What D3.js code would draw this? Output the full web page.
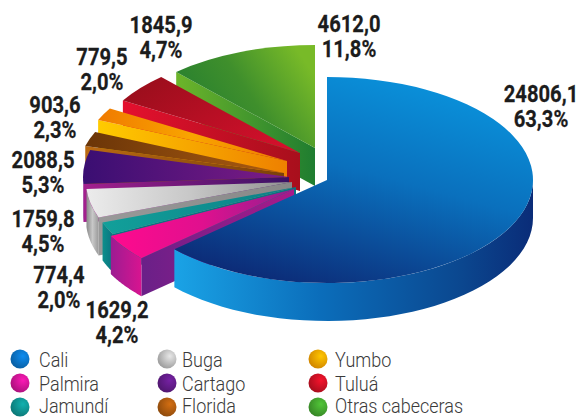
<!DOCTYPE html>
<html><head><meta charset="utf-8">
<script src="https://cdn.jsdelivr.net/npm/d3@7/dist/d3.min.js"></script>
<style>html,body{margin:0;padding:0;background:#fff}svg{display:block}</style>
</head><body><svg id="c" width="580" height="417"></svg>
<script>
const categories=["Cali","Palmira","Jamundí","Buga","Cartago","Florida","Yumbo","Tuluá","Otras cabeceras"];
const values=[24806.1,1629.2,774.4,1759.8,2088.5,903.6,779.5,1845.9,4612.0];
const percents=["63,3%","4,2%","2,0%","4,5%","5,3%","2,3%","2,0%","4,7%","11,8%"];
const legendOrder=["Cali","Palmira","Jamundí","Buga","Cartago","Florida","Yumbo","Tuluá","Otras cabeceras"];

// layout and style, kept apart from the data
const W=580,H=417,cx=327,cy=180,rx=206,ry=103,depth=38;
const explode={"Cali":[0,0],"Palmira":[-33,9],"Jamundí":[-31,7],"Buga":[-35,2],"Cartago":[-38,-3],"Florida":[-43,-7],"Yumbo":[-40,-19],"Tuluá":[-27,-27],"Otras cabeceras":[-12,-32]};
const labelPos={"Cali":[541,102],"Palmira":[117,318],"Jamundí":[59,283],"Buga":[43,227],"Cartago":[43,168],"Florida":[55,113],"Yumbo":[102,65],"Tuluá":[161,33],"Otras cabeceras":[349,32]};
const style={
 "Cali":{top:[[0,"#0a93dc"],[.45,"#0a70bd"],[1,"#0c2a76"]],tv:[.72,0,.25,1],wall:[[0,"#1aa3e6"],[.4,"#0b6ebb"],[.8,"#0b478f"],[1,"#0a2c78"]],side:["#0b6ebb","#0b3c8c"],dot:"#0a6dbb"},
 "Palmira":{top:[[0,"#ff0a8e"],[.5,"#e0108e"],[1,"#8e2090"]],tv:[0,.5,1,.5],wall:[[0,"#9c1c92"],[1,"#d81490"]],side:["#6a2088","#a81a8a"],dot:"#c4148e"},
 "Jamundí":{top:[[0,"#12a09a"],[1,"#0c7f86"]],tv:[0,.5,1,.5],wall:[[0,"#0d8f8c"],[1,"#0a7480"]],side:["#0a7480","#0a7480"],dot:"#0e8a88"},
 "Buga":{top:[[0,"#ececec"],[.5,"#c8c8c8"],[1,"#8f8f8f"]],tv:[0,.5,1,.5],wall:[[0,"#8a8a8a"],[.5,"#c8c8c8"],[1,"#9a9a9a"]],side:["#999","#888"],dot:"#b4b4b4"},
 "Cartago":{top:[[0,"#3a0e72"],[1,"#7e1c86"]],tv:[0,.5,1,.5],wall:[[0,"#a4208e"],[1,"#8a1c8a"]],side:["#a4208e","#3a1064"],dot:"#5c1a80"},
 "Florida":{top:[[0,"#6a3508"],[1,"#ad5c10"]],tv:[0,.5,1,.5],wall:[[0,"#b5620f"],[1,"#8a480c"]],side:["#ba6a12","#7a400a"],dot:"#a4560e"},
 "Yumbo":{top:[[0,"#f07a00"],[.5,"#f9a500"],[1,"#ef7a00"]],tv:[0,.5,1,.5],wall:[[0,"#ffcc00"],[1,"#f4a000"]],side:["#ffcb00","#ee8000"],dot:"#f59a00"},
 "Tuluá":{top:[[0,"#9a0e1c"],[1,"#d5102c"]],tv:[0,.2,1,.8],wall:[[0,"#e2102e"],[1,"#c40f24"]],side:["#e4102e","#a80f1c"],dot:"#c00f22"},
 "Otras cabeceras":{top:[[0,"#1f7a30"],[.55,"#3f8f2c"],[1,"#78ba28"]],tv:[0,.8,1,.3],wall:[[0,"#6db52a"],[1,"#1f7d30"]],side:["#6db52a","#1f7d30"],dot:"#3f9a2c"}
};

const svg=d3.select("#c");
const defs=svg.append("defs");
function grad(id,stops,v){
  const g=defs.append("linearGradient").attr("id",id).attr("x1",v[0]).attr("y1",v[1]).attr("x2",v[2]).attr("y2",v[3]);
  stops.forEach(s=>g.append("stop").attr("offset",s[0]).attr("stop-color",s[1]));
  return `url(#${id})`;
}
const arcs=d3.pie().sort(null).value((d,i)=>values[i]).startAngle(0).endAngle(2*Math.PI)(categories);
const k=ry/rx;
const arcGen=d3.arc().innerRadius(0).outerRadius(rx);
const pt=(a,r=rx)=>{const p=d3.pointRadial(a,r);return [p[0],p[1]*k];};
const line=d3.line();

// painter's order: back slices first, the large front slice last
const order=[8,7,6,5,4,3,2,1,0];
order.forEach(i=>{
  const a=arcs[i],name=categories[i],st=style[name],[dx,dy]=explode[name];
  const g=svg.append("g").attr("transform",`translate(${cx+dx},${cy+dy})`);
  // radial wall at the clockwise start edge
  if(a.startAngle>Math.PI){
    const p=pt(a.startAngle);
    g.append("path").attr("d",line([[0,0],p,[p[0],p[1]+depth],[0,depth]])+"Z")
     .attr("fill",grad("s"+i,[[0,st.side[0]],[1,st.side[1]]],[0,.5,1,.5]));
  }
  // curved outer wall, only where it faces the viewer
  const a0=Math.max(a.startAngle,Math.PI/2),a1=Math.min(a.endAngle,3*Math.PI/2);
  if(a1>a0){
    const t=d3.range(0,41).map(j=>pt(a0+(a1-a0)*j/40));
    const poly=t.concat(t.slice().reverse().map(p=>[p[0],p[1]+depth]));
    g.append("path").attr("d",line(poly)+"Z")
     .attr("fill",grad("w"+i,st.wall,[0,.5,1,.5]));
  }
  // top face: a d3 arc squashed into an ellipse
  g.append("path").attr("d",arcGen(a)).attr("transform",`scale(1,${k})`)
   .attr("fill",grad("t"+i,st.top,st.tv));
});

// value labels
const sx=.86;
categories.forEach((name,i)=>{
  const [x,y]=labelPos[name];
  const g=svg.append("g").attr("transform",`translate(${x},${y}) scale(${sx},1)`)
    .attr("font-family","Roboto").attr("font-weight",700).attr("font-size",23.5).attr("fill","#1c1c1c")
    .attr("stroke","#1c1c1c").attr("stroke-width",.25).attr("text-anchor","middle");
  g.append("text").text(values[i].toFixed(1).replace(".",","));
  g.append("text").attr("y",25).text(percents[i]);
});

// legend
const colX=d3.scaleOrdinal().domain([0,1,2]).range([20,167,318]);
const textX=d3.scaleOrdinal().domain([0,1,2]).range([39,182,335]);
const rowY=d3.scaleOrdinal().domain([0,1,2]).range([359,383,407]);
const textY=d3.scaleOrdinal().domain([0,1,2]).range([367,391,413]);
legendOrder.forEach((name,i)=>{
  const c=Math.floor(i/3),r=i%3;
  const col=style[name].dot;
  const rg=defs.append("radialGradient").attr("id","d"+i).attr("cx",.65).attr("cy",.35).attr("r",.75);
  rg.append("stop").attr("offset",0).attr("stop-color",d3.color(col).brighter(.7));
  rg.append("stop").attr("offset",1).attr("stop-color",d3.color(col).darker(.5));
  svg.append("circle").attr("cx",colX(c)).attr("cy",rowY(r)).attr("r",9.5).attr("fill",`url(#d${i})`);
  svg.append("text").attr("transform",`translate(${textX(c)},${textY(r)}) scale(.9,1)`)
    .attr("font-family","Roboto").attr("font-weight",300).attr("font-size",20).attr("fill","#3a3a3a").text(name);
});
</script></body></html>
